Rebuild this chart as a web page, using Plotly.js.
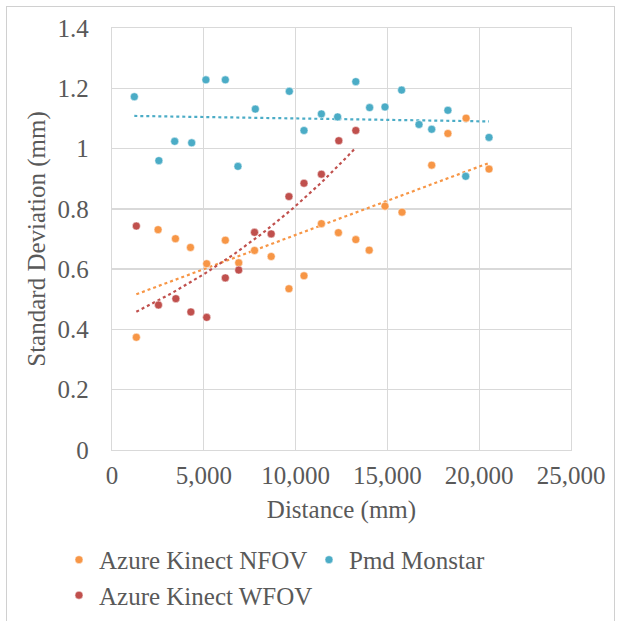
<!DOCTYPE html>
<html>
<head>
<meta charset="utf-8">
<script src="https://cdn.plot.ly/plotly-3.0.1.min.js"></script>
<style>
html,body{margin:0;padding:0;background:#fff;overflow:hidden;}
#chart{position:absolute;left:0;top:0;width:619px;height:621px;}
#frame{position:absolute;left:6px;top:6px;width:607px;height:640px;border:1px solid #d0d0d0;pointer-events:none;}
svg text{font-family:'Liberation Serif', serif !important;}
</style>
</head>
<body>
<div id="chart"></div>
<div id="frame"></div>
<script>
// Data
const distNFOV = [1325, 2510, 3456, 4274, 5157, 6172, 6902, 7763, 8671, 9637, 10457, 11405, 12331, 13279, 14009, 14869, 15796, 17413, 18295, 19286, 20535];
const sdNFOV   = [0.374, 0.731, 0.701, 0.672, 0.618, 0.696, 0.621, 0.662, 0.642, 0.535, 0.578, 0.751, 0.721, 0.698, 0.663, 0.809, 0.789, 0.945, 1.050, 1.101, 0.932];

const distPmd = [1215, 2553, 3414, 4340, 5115, 6172, 6860, 7807, 9659, 10457, 11405, 12288, 13279, 14031, 14869, 15774, 16721, 17413, 18295, 19264, 20535];
const sdPmd   = [1.172, 0.960, 1.024, 1.019, 1.228, 1.228, 0.941, 1.131, 1.190, 1.060, 1.115, 1.105, 1.222, 1.136, 1.138, 1.194, 1.080, 1.064, 1.127, 0.908, 1.037];

const distWFOV = [1325, 2531, 3478, 4296, 5157, 6172, 6902, 7763, 8671, 9637, 10457, 11405, 12353, 13279];
const sdWFOV   = [0.743, 0.481, 0.502, 0.458, 0.440, 0.571, 0.597, 0.722, 0.717, 0.841, 0.885, 0.915, 1.026, 1.060];

const seriesNames = ["Azure Kinect NFOV", "Pmd Monstar", "Azure Kinect WFOV"];
const seriesColors = ["#F79646", "#4BACC6", "#C0504D"];

const xTicks = [0, 5000, 10000, 15000, 20000, 25000];
const yTicks = [0, 0.2, 0.4, 0.6, 0.8, 1, 1.2, 1.4];

// Trendline fits (Excel style)
function linFit(x, y) {
  const n = x.length;
  let sx=0, sy=0, sxx=0, sxy=0;
  for (let i=0;i<n;i++){ sx+=x[i]; sy+=y[i]; sxx+=x[i]*x[i]; sxy+=x[i]*y[i]; }
  const b = (n*sxy - sx*sy)/(n*sxx - sx*sx);
  const a = (sy - b*sx)/n;
  return v => a + b*v;
}
function expFit(x, y) {
  const f = linFit(x, y.map(Math.log));
  return v => Math.exp(f(v));
}
function sampleLine(x, f) {
  const lo = Math.min(...x), hi = Math.max(...x);
  const xs = [], ys = [];
  for (let i=0;i<=60;i++){ const v = lo + (hi-lo)*i/60; xs.push(v); ys.push(f(v)); }
  return {xs, ys};
}

const trendN = sampleLine(distNFOV, linFit(distNFOV, sdNFOV));
const trendP = sampleLine(distPmd, linFit(distPmd, sdPmd));
const trendW = sampleLine(distWFOV, expFit(distWFOV, sdWFOV));

const textFont = {family: "Liberation Serif", size: 25, color: "#595959"};

function scatter(x, y, i) {
  return {x, y, type:"scatter", mode:"markers", name: seriesNames[i],
    marker:{color: seriesColors[i], size: 8, line:{width:0.5, color:"#ffffff"}}, hoverinfo:"x+y"};
}
function trend(t, i) {
  return {x: t.xs, y: t.ys, type:"scatter", mode:"lines", showlegend:false,
    line:{color: seriesColors[i], width:2.2, dash:"dot"}, hoverinfo:"skip"};
}

const data = [
  trend(trendN, 0), trend(trendP, 1), trend(trendW, 2),
  scatter(distNFOV, sdNFOV, 0),
  scatter(distPmd, sdPmd, 1),
  scatter(distWFOV, sdWFOV, 2)
];

const layout = {
  width: 619, height: 621,
  margin: {l: 112, r: 48, t: 28, b: 171, autoexpand: false},
  paper_bgcolor: "#ffffff", plot_bgcolor: "#ffffff",
  showlegend: true,
  xaxis: {
    range: [0, 25000], tickvals: xTicks, tickformat: ",",
    showgrid: true, gridcolor: "#d9d9d9", gridwidth: 1.3,
    showline: true, linecolor: "#d9d9d9", linewidth: 1.3, mirror: true,
    zeroline: false, ticks: "", ticklabelstandoff: 3,
    tickfont: textFont,
    title: {text: "Distance (mm)", font: textFont, standoff: 12},
    automargin: false, fixedrange: true
  },
  yaxis: {
    range: [0, 1.4], tickvals: yTicks,
    showgrid: true, gridcolor: "#d9d9d9", gridwidth: 1.3,
    showline: true, linecolor: "#d9d9d9", linewidth: 1.3, mirror: true,
    zeroline: false, ticks: "", ticklabelstandoff: 17,
    tickfont: textFont,
    title: {text: "Standard Deviation (mm)", font: textFont, standoff: 4},
    automargin: false, fixedrange: true
  },
  legend: {
    orientation: "h", x: -0.1155, xanchor: "left", y: -0.206, yanchor: "top",
    font: textFont,
    itemwidth: 30, tracegroupgap: 0, bgcolor: "rgba(0,0,0,0)",
    entrywidth: 205, entrywidthmode: "pixels"
  },
  separators: ".,"
};

Plotly.newPlot("chart", data, layout, {staticPlot: true, displayModeBar: false});
</script>
</body>
</html>
